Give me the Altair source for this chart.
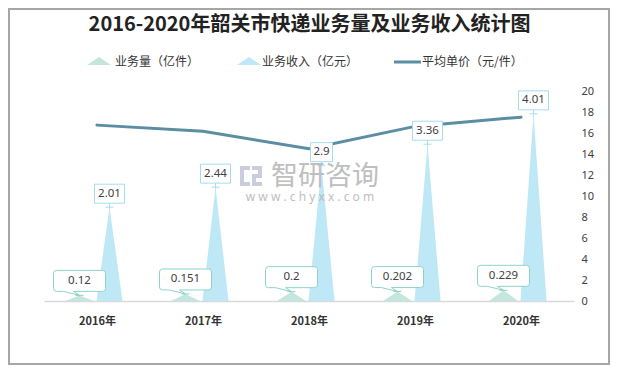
import json
import altair as alt
import pandas as pd

# ---- data ----
years = ["2016年", "2017年", "2018年", "2019年", "2020年"]
volume = [0.12, 0.151, 0.2, 0.202, 0.229]          # 业务量（亿件）
revenue = [2.01, 2.44, 2.9, 3.36, 4.01]           # 业务收入（亿元）
price = [16.75, 16.16, 14.5, 16.63, 17.51]        # 平均单价（元/件）
legend_labels = ["业务量（亿件）", "业务收入（亿元）", "平均单价（元/件）"]
title_text = "2016-2020年韶关市快递业务量及业务收入统计图"
right_ticks = list(range(0, 21, 2))

FONT = "Noto Sans CJK SC"
NUMFONT = "Noto Sans"
C_VOL = "#c4e7dd"
C_REV = "#bfe8f7"
C_VOL_LINE = "#5fbcad"
C_REV_LINE = "#a6dcf1"
C_PRICE = "#5b8ea3"

df = pd.DataFrame({"idx": list(range(len(years))), "year": years, "price": price})
long = pd.DataFrame({
    "idx": list(range(len(years))) * 2,
    "series": ["volume"] * len(volume) + ["revenue"] * len(revenue),
    "value": volume + revenue,
    "label": [str(v) for v in volume] + [str(v) for v in revenue],
})

xs = alt.Scale(domain=[-0.5, len(years) - 0.5], nice=False, zero=False)
ys = alt.Scale(domain=[0, 4.5], nice=False)
xc_expr = "datum.idx + (datum.series == 'volume' ? -0.165 : 0.118)"
series_dom = ["volume", "revenue"]

label_expr = json.dumps(years, ensure_ascii=False) + "[datum.value]"
x_axis = alt.Axis(values=list(range(len(years))), labelExpr=label_expr, title=None,
                  ticks=False, grid=False, domainColor="#d9d9d9", domainWidth=1.5,
                  labelFont=FONT, labelFontWeight="bold", labelFontSize=11,
                  labelColor="#333333", labelPadding=14)

def X(field):
    return alt.X(field, scale=xs, axis=x_axis, title=None)

# triangles
tri = alt.Chart(long).transform_calculate(
    xc=xc_expr, v="[-1, 0, 1]"
).transform_flatten(["v"]).transform_calculate(
    xv="datum.xc + datum.v * (datum.series == 'volume' ? 0.137 : 0.123)",
    yv="datum.v == 0 ? datum.value : 0",
    gid="datum.series + datum.idx",
).mark_area(orient="vertical", opacity=1).encode(
    x=X("xv:Q"),
    y=alt.Y("yv:Q", scale=ys, axis=None),
    detail="gid:N",
    color=alt.Color("series:N", scale=alt.Scale(domain=series_dom, range=[C_VOL, C_REV]), legend=None),
)

# value rules inside triangles
rules = alt.Chart(long).transform_calculate(xc=xc_expr).mark_rule(strokeWidth=1).encode(
    x=X("xc:Q"),
    y=alt.Y("value:Q", scale=ys, axis=None),
    y2=alt.datum(0),
    color=alt.Color("series:N", scale=alt.Scale(domain=series_dom, range=[C_VOL_LINE, C_REV_LINE]), legend=None),
)

def p(s):
    # path in pixels -> unit space for size 10000 (1 unit = 50px)
    out = []
    for tok in s.split():
        try:
            out.append(f"{float(tok) / 50:.4f}")
        except ValueError:
            out.append(tok)
    return " ".join(out)

path_vol = p("M -23 -25 L 23 -25 Q 26 -25 26 -22 L 26 -7 Q 26 -4 23 -4 L -6 -4 L 0 0 L -16 -4 "
             "L -23 -4 Q -26 -4 -26 -7 L -26 -22 Q -26 -25 -23 -25 Z M -4 0 L 4 0")
path_r4 = p("M -15 -23 L 15 -23 L 15 -4 L -15 -4 Z M 0 -4 L 0 0 M -4 0 L 4 0")
path_r3 = p("M -11 -23 L 11 -23 L 11 -4 L -11 -4 Z M 0 -4 L 0 0 M -4 0 L 4 0")

boxes = alt.Chart(long).transform_calculate(
    xc=xc_expr,
    kind="datum.series == 'volume' ? 'v' : (length(datum.label) > 3 ? 'r4' : 'r3')",
).mark_point(filled=True, fill="white", size=10000, opacity=1, strokeWidth=1, strokeOpacity=1).encode(
    x=X("xc:Q"),
    y=alt.Y("value:Q", scale=ys, axis=None),
    shape=alt.Shape("kind:N", scale=alt.Scale(domain=["v", "r4", "r3"], range=[path_vol, path_r4, path_r3]), legend=None),
    stroke=alt.Stroke("series:N", scale=alt.Scale(domain=series_dom, range=["#8fd3c7", C_REV_LINE]), legend=None),
)

def lab(series, dy):
    return alt.Chart(long).transform_filter(f"datum.series == '{series}'").transform_calculate(
        xc=xc_expr
    ).mark_text(dy=dy, font=NUMFONT, fontSize=11.5, color="#404040").encode(
        x=X("xc:Q"),
        y=alt.Y("value:Q", scale=ys, axis=None),
        text="label:N",
    )

lab_vol = lab("volume", -14.5)
lab_rev = lab("revenue", -13.5)

line = alt.Chart(df).mark_line(color=C_PRICE, strokeWidth=3, strokeCap="round").encode(
    x=X("idx:Q"),
    y=alt.Y("price:Q", scale=alt.Scale(domain=[0, 20], nice=False),
            axis=alt.Axis(orient="right", values=right_ticks, title=None, domain=False, ticks=False,
                          grid=False, labelFont=NUMFONT, labelFontSize=11, labelColor="#404040",
                          labelPadding=7, labelAlign="left")),
)

one = pd.DataFrame({"a": [0]})

def txt(t, x, y, **kw):
    return alt.Chart(pd.DataFrame({"t": [t]})).mark_text(**kw).encode(
        x=alt.value(x), y=alt.value(y), text="t:N")

title = txt(title_text, 265.5, -66, font=FONT, fontSize=20, fontWeight="bold", color="#222222", align="center", baseline="middle")

tri_icon = p("M -12 4 L 0 -4 L 12 4 Z")
leg_icon1 = alt.Chart(one).mark_point(shape=tri_icon, size=10000, filled=True, fill=C_VOL, opacity=1, strokeWidth=0).encode(
    x=alt.value(55), y=alt.value(-30))
leg_icon2 = alt.Chart(one).mark_point(shape=tri_icon, size=10000, filled=True, fill=C_REV, opacity=1, strokeWidth=0).encode(
    x=alt.value(205), y=alt.value(-30))
leg_line = alt.Chart(one).mark_rule(color=C_PRICE, strokeWidth=3).encode(
    x=alt.value(350), x2=alt.value(377), y=alt.value(-29))
leg_kw = dict(font=FONT, fontSize=12, color="#333333", align="left", baseline="middle")
leg_t1 = txt(legend_labels[0], 71, -29, **leg_kw)
leg_t2 = txt(legend_labels[1], 218, -29, **leg_kw)
leg_t3 = txt(legend_labels[2], 378, -29, **leg_kw)

# watermark
logo_path = p("M -11 -10 L -1 -10 L -1 -6 L -7 -6 L -7 6 L -1 6 L -1 10 L -11 10 Z "
              "M 1 -10 L 11 -10 L 11 2 L 5 2 L 5 6 L 11 6 L 11 10 L 1 10 L 1 -2 L 7 -2 L 7 -6 L 1 -6 Z")
logo = alt.Chart(one).mark_point(shape=logo_path, size=10000, filled=True, fill="#c3c9dc", opacity=0.9, strokeWidth=0).encode(
    x=alt.value(207), y=alt.value(85))
wm1 = txt("智研咨询", 281, 86, font=FONT, fontSize=27, color="#b4b4b4", opacity=0.85, align="center", baseline="middle")
wm2 = txt("w w w . c h y x x . c o m", 266, 106, font=NUMFONT, fontSize=12, color="#b4b4b4", opacity=0.85, align="center", baseline="middle")

border = alt.Chart(one).mark_rect(fill="transparent", stroke="#a6a6a6", strokeWidth=2).encode(
    x=alt.value(-35), x2=alt.value(565), y=alt.value(-82), y2=alt.value(273))

chart = alt.layer(
    border, tri, rules, line, boxes, lab_vol, lab_rev, logo, wm1, wm2,
    title, leg_icon1, leg_icon2, leg_line, leg_t1, leg_t2, leg_t3,
).resolve_scale(y="independent").properties(
    width=530, height=210,
    padding={"left": 36, "top": 83, "right": 36, "bottom": 64},
    autosize=alt.AutoSizeParams(type="none"),
    background="white",
).configure_view(strokeWidth=0)

chart.save("out.html", embed_options={"renderer": "svg", "actions": False})
